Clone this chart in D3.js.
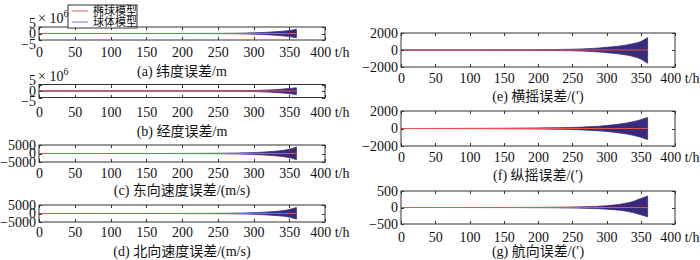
<!DOCTYPE html>
<html lang="zh">
    <head>
        <meta charset="utf-8">
        <title>误差曲线</title>
        <script type="text/javascript" src="https://cdn.jsdelivr.net/npm/d3@7/dist/d3.min.js"></script>
        <style type="text/css">
            body { margin: 0; background: #fff; }
            svg { display: block; }
            .axis text {
                font-family: "Liberation Serif", "DejaVu Serif", serif;
                font-size: 14px;
                fill: #111;
            }
            .axis line { stroke: #333; stroke-width: 1; shape-rendering: crispEdges; }
            .axis path { display: none; }
            .cap, .lbl {
                font-family: "Liberation Serif", "Noto Sans CJK SC", serif;
                font-size: 14px;
                fill: #111;
            }
        </style>
    </head>
    <body>
        <script type="text/javascript">
            var w = 700;
            var h = 260;

            var timeH = [0, 50, 100, 150, 200, 225, 250, 265, 280, 290, 300, 310, 320, 330, 340, 350, 355, 360];

            //Ellipsoid model error (red), stays near zero
            var ellipsoidErr = [0, 0, 0, 0, 0, 0, 0, 0, 0, 0, 0, 0, 0, 0, 0, 0, 0, 0];

            //Sphere model error envelopes (upper / lower)
            var latUp  = [0, 0, 0.01, 0.02, 0.04, 0.06, 0.1, 0.15, 0.25, 0.35, 0.5, 0.7, 0.95, 1.3, 1.7, 2.3, 2.7, 3.2];
            var latLo  = [0, 0, -0.01, -0.02, -0.04, -0.06, -0.1, -0.15, -0.25, -0.35, -0.5, -0.7, -0.95, -1.3, -1.8, -2.4, -2.8, -3.3];
            var lonUp  = [0, 0, 0.01, 0.02, 0.03, 0.05, 0.08, 0.12, 0.2, 0.28, 0.4, 0.55, 0.75, 1.0, 1.4, 1.9, 2.2, 2.5];
            var lonLo  = [0, 0, -0.01, -0.02, -0.03, -0.05, -0.08, -0.12, -0.2, -0.3, -0.42, -0.6, -0.8, -1.1, -1.5, -2.0, -2.4, -2.8];
            var veUp   = [0, 0, 10, 20, 50, 80, 130, 200, 300, 400, 550, 750, 1000, 1350, 1800, 2500, 3100, 3800];
            var veLo   = [0, 0, -10, -20, -50, -80, -130, -200, -300, -400, -550, -750, -1000, -1350, -1800, -2400, -3000, -3600];
            var vnUp   = [0, 0, 10, 20, 40, 70, 110, 170, 260, 350, 480, 650, 880, 1200, 1600, 2300, 2900, 3500];
            var vnLo   = [0, 0, -10, -20, -40, -70, -110, -170, -260, -350, -480, -650, -880, -1150, -1500, -2100, -2700, -3200];
            var rollUp = [0, 5, 10, 20, 40, 60, 90, 130, 190, 240, 310, 390, 480, 600, 760, 1000, 1200, 1450];
            var rollLo = [0, -5, -10, -20, -40, -60, -90, -130, -190, -240, -310, -390, -480, -600, -780, -1050, -1300, -1550];
            var pitUp  = [0, 5, 15, 30, 60, 85, 120, 160, 220, 270, 340, 420, 520, 640, 790, 1000, 1130, 1250];
            var pitLo  = [0, -5, -15, -30, -60, -85, -120, -160, -220, -270, -340, -420, -520, -640, -790, -1000, -1130, -1250];
            var yawUp  = [0, 0, 1, 2, 5, 8, 15, 22, 32, 40, 55, 72, 100, 135, 190, 270, 310, 350];
            var yawLo  = [0, 0, -1, -2, -5, -8, -15, -22, -30, -38, -50, -65, -85, -115, -160, -220, -250, -280];

            var xTicks = [0, 50, 100, 150, 200, 250, 300, 350, 400];
            var yTicksE6 = [-5, 0, 5];
            var yTicks5000 = [-5000, 0, 5000];
            var yTicks2000 = [-2000, 0, 2000];
            var yTicks500 = [-500, 0, 500];

            var captions = ["(a) 纬度误差/m", "(b) 经度误差/m", "(c) 东向速度误差/(m/s)", "(d) 北向速度误差/(m/s)",
                            "(e) 横摇误差/(′)", "(f) 纵摇误差/(′)", "(g) 航向误差/(′)"];
            var legendNames = ["椭球模型", "球体模型"];

            //Panel layout (box position in pixels)
            var panels = [
                {x0: 39, x1: 325, y0: 27, y1: 40, up: latUp, lo: latLo, ticks: yTicksE6, lim: 5, nudge: 4, exp: true, tx: 52, cy: 71},
                {x0: 39, x1: 325, y0: 84.5, y1: 97.5, up: lonUp, lo: lonLo, ticks: yTicksE6, lim: 5, nudge: 4, exp: true, tx: 112, cy: 131},
                {x0: 39, x1: 325, y0: 145, y1: 162, up: veUp, lo: veLo, ticks: yTicks5000, lim: 5000, nudge: 0, tx: 173, cy: 190},
                {x0: 39, x1: 325, y0: 205, y1: 222, up: vnUp, lo: vnLo, ticks: yTicks5000, lim: 5000, nudge: 0, tx: 232, cy: 251},
                {x0: 401, x1: 675, y0: 33, y1: 67, up: rollUp, lo: rollLo, ticks: yTicks2000, lim: 2000, nudge: 0, tx: 78, cy: 96},
                {x0: 401, x1: 675, y0: 111, y1: 146, up: pitUp, lo: pitLo, ticks: yTicks2000, lim: 2000, nudge: 0, tx: 157, cy: 175},
                {x0: 401, x1: 675, y0: 191, y1: 224, up: yawUp, lo: yawLo, ticks: yTicks500, lim: 500, nudge: 0, tx: 237, cy: 251}
            ];

            var sphereColor = "#3a2a7c";
            var ellColor = "#e8534a";

            var svg = d3.select("body")
                        .append("svg")
                        .attr("width", w)
                        .attr("height", h);

            panels.forEach(function(p, i) {
                var xScale = d3.scaleLinear().domain([0, 400]).range([p.x0, p.x1]);
                var yScale = d3.scaleLinear().domain([-p.lim, p.lim]).range([p.y1, p.y0]);

                var g = svg.append("g");

                //Sphere model (dense oscillation drawn as its envelope)
                var area = d3.area()
                    .x(function(d, k) { return xScale(timeH[k]); })
                    .y0(function(d, k) { return yScale(p.lo[k]); })
                    .y1(function(d, k) { return yScale(p.up[k]); })
                    .curve(d3.curveMonotoneX);
                g.append("path")
                    .datum(p.up)
                    .attr("d", area)
                    .attr("fill", sphereColor)
                    .attr("stroke", sphereColor)
                    .attr("stroke-width", 0.8);

                //Ellipsoid model
                var line = d3.line()
                    .x(function(d, k) { return xScale(timeH[k]); })
                    .y(function(d) { return yScale(d); });
                g.append("path")
                    .datum(ellipsoidErr)
                    .attr("d", line)
                    .attr("fill", "none")
                    .attr("stroke", ellColor)
                    .attr("stroke-width", 1);

                //Box
                g.append("rect")
                    .attr("x", p.x0).attr("y", p.y0)
                    .attr("width", p.x1 - p.x0).attr("height", p.y1 - p.y0)
                    .attr("fill", "none")
                    .attr("stroke", "#333")
                    .attr("stroke-width", 1);

                //Axes, ticks pointing inward like matlab
                var xb = g.append("g").attr("class", "axis")
                    .attr("transform", "translate(0," + p.y1 + ")")
                    .call(d3.axisBottom(xScale).tickValues(xTicks).tickSizeInner(-3).tickSizeOuter(0)
                          .tickPadding(0).tickFormat(function(d) { return d === 400 ? "400 t/h" : d; }));
                xb.selectAll("text").attr("y", p.tx - p.y1).attr("dy", "0.35em");
                //last label sits with its right end just past the box
                xb.selectAll(".tick")
                    .filter(function(d) { return d === 400; })
                    .select("text")
                    .attr("text-anchor", "end")
                    .attr("x", 24);

                g.append("g").attr("class", "axis")
                    .attr("transform", "translate(0," + p.y0 + ")")
                    .call(d3.axisTop(xScale).tickValues(xTicks).tickSizeInner(-3).tickSizeOuter(0).tickFormat(""));

                var yl = g.append("g").attr("class", "axis")
                    .attr("transform", "translate(" + p.x0 + ",0)")
                    .call(d3.axisLeft(yScale).tickValues(p.ticks).tickSizeInner(-3).tickSizeOuter(0)
                          .tickPadding(3).tickFormat(function(d) { return d < 0 ? "\u2212" + Math.abs(d) : d; }));
                yl.selectAll("text")
                    .attr("dy", function(d) { return d > 0 ? (0.32 * 14 - p.nudge) : d < 0 ? (0.32 * 14 + p.nudge) : 0.32 * 14; });

                g.append("g").attr("class", "axis")
                    .attr("transform", "translate(" + p.x1 + ",0)")
                    .call(d3.axisRight(yScale).tickValues(p.ticks).tickSizeInner(-3).tickSizeOuter(0).tickFormat(""));

                if (p.exp) {
                    var t = g.append("text").attr("class", "lbl")
                        .attr("x", p.x0 - 1).attr("y", p.y0 - 4);
                    t.append("tspan").text("\u00d7 10");
                    t.append("tspan").attr("font-size", "10px").attr("dy", -6).text("6");
                }

                g.append("text").attr("class", "cap")
                    .attr("x", (p.x0 + p.x1) / 2).attr("y", p.cy)
                    .attr("dy", "0.35em")
                    .attr("text-anchor", "middle")
                    .text(captions[i]);
            });

            //Legend in panel (a)
            var lg = svg.append("g").attr("transform", "translate(68,5)");
            lg.append("rect").attr("width", 69).attr("height", 23)
                .attr("fill", "#fff").attr("stroke", "#333").attr("stroke-width", 1);
            [ellColor, "#7a70b8"].forEach(function(c, k) {
                lg.append("line").attr("x1", 4).attr("x2", 20)
                    .attr("y1", 6 + k * 11).attr("y2", 6 + k * 11)
                    .attr("stroke", c).attr("stroke-width", 1);
                lg.append("text").attr("class", "lbl")
                    .attr("x", 25).attr("y", 6 + k * 11).attr("dy", "0.35em")
                    .style("font-size", "11px")
                    .text(legendNames[k]);
            });
        </script>
    </body>
</html>
